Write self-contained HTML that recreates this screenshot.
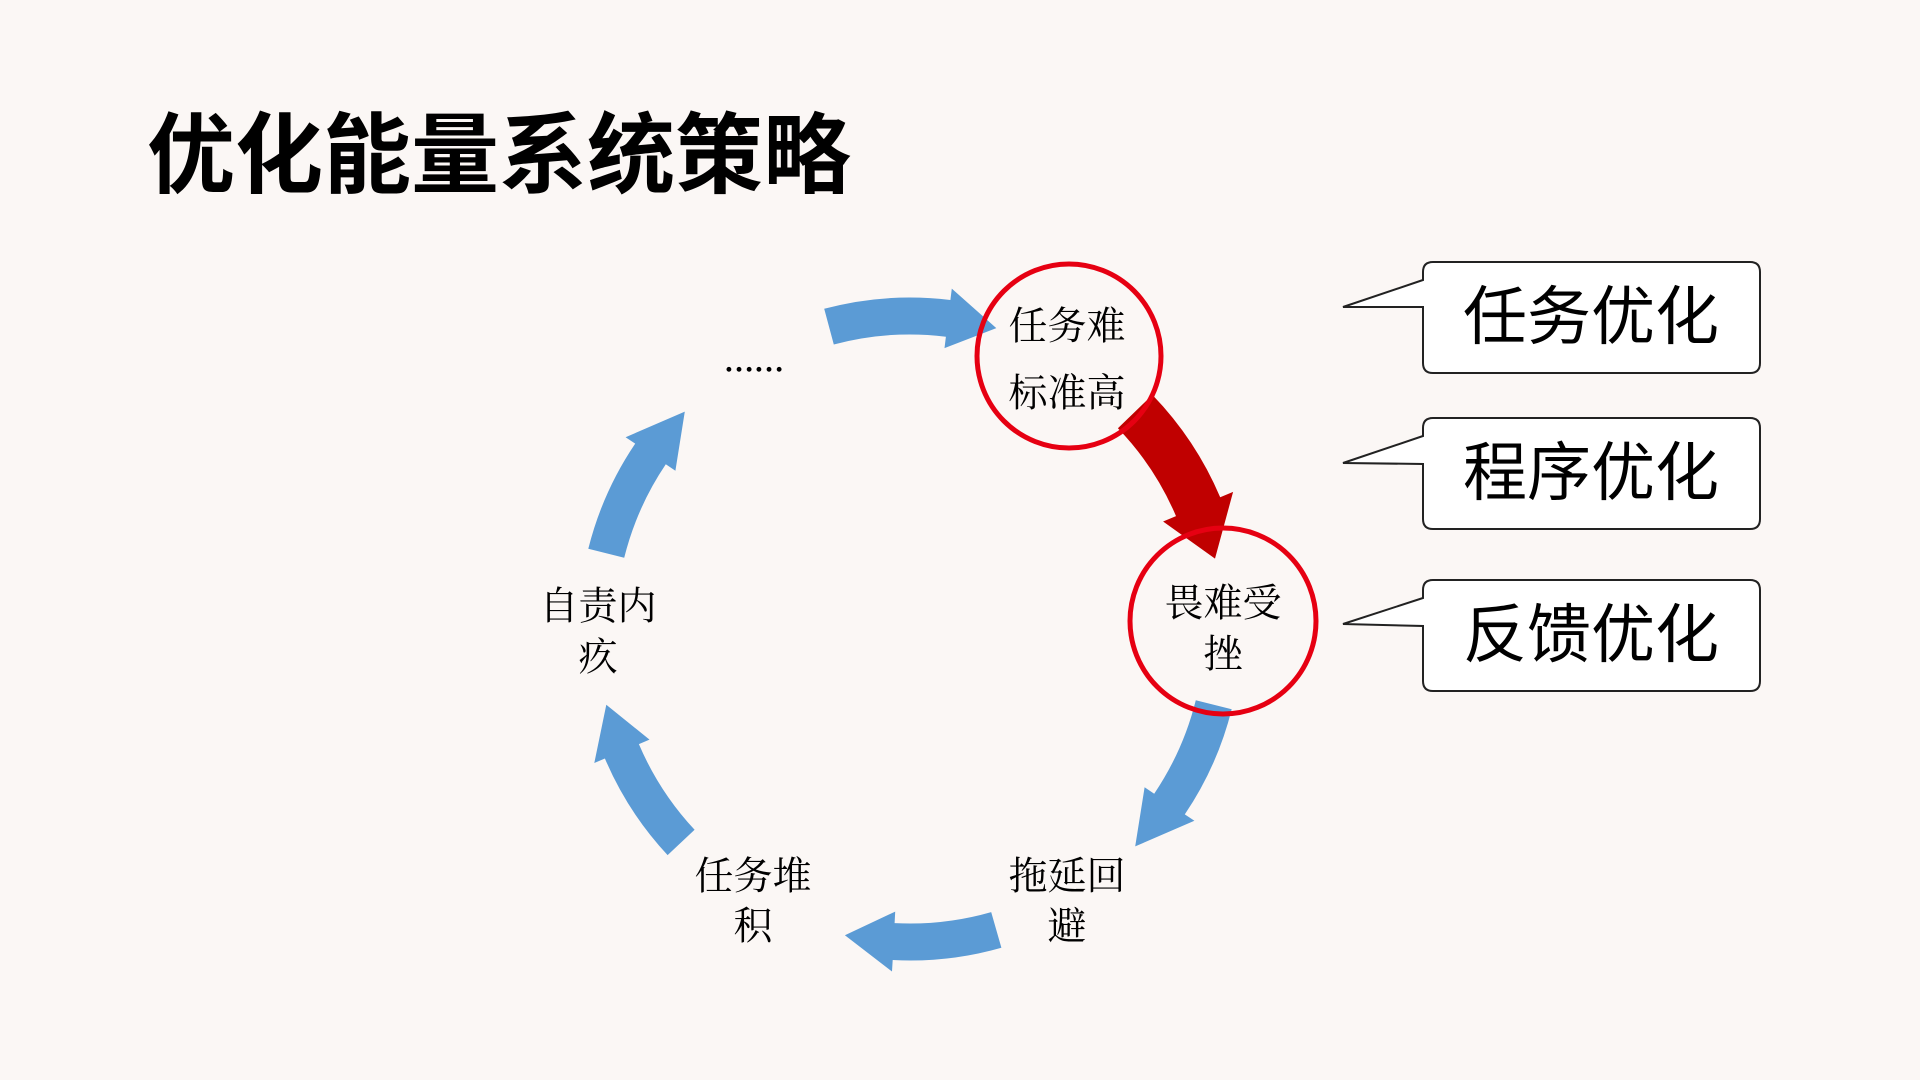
<!DOCTYPE html>
<html><head><meta charset="utf-8">
<style>
html,body{margin:0;padding:0;background:#fbf7f5;}
body{width:1920px;height:1080px;position:relative;overflow:hidden;}
#title{position:absolute;left:147px;top:112px;font:bold 88px/1 "Liberation Sans","Noto Sans CJK SC",sans-serif;color:#000;letter-spacing:0px;white-space:nowrap;}
svg{position:absolute;left:0;top:0;}
</style></head><body>
<div id="title">优化能量系统策略</div>
<svg id="s" width="1920" height="1080" viewBox="0 0 1920 1080" xmlns="http://www.w3.org/2000/svg">
<g id="arrows"></g>
<circle cx="1069" cy="356" r="92" fill="none" stroke="#e60012" stroke-width="5"/>
<circle cx="1223" cy="621" r="93" fill="none" stroke="#e60012" stroke-width="5"/>
<g font-family="'Liberation Serif','Noto Serif CJK SC',serif" font-size="39" fill="#000" text-anchor="middle" dominant-baseline="central">
<text x="754" y="362" font-size="30" font-weight="bold">……</text>
<text x="1067" y="327">任务难</text>
<text x="1067" y="394">标准高</text>
<text x="1223" y="604">畏难受</text>
<text x="1223" y="655">挫</text>
<text x="598" y="607">自责内</text>
<text x="598" y="658">疚</text>
<text x="753" y="877">任务堆</text>
<text x="753" y="927">积</text>
<text x="1067" y="877">拖延回</text>
<text x="1067" y="927">避</text>
</g>
<g fill="#fff" stroke="#222" stroke-width="2">
<path d="M1433,262 H1750 Q1760,262 1760,272 V363 Q1760,373 1750,373 H1433 Q1423,373 1423,363 V307 L1343,307 L1423,280 V272 Q1423,262 1433,262 Z"/>
<path d="M1433,418 H1750 Q1760,418 1760,428 V519 Q1760,529 1750,529 H1433 Q1423,529 1423,519 V464 L1343,463 L1423,436 V428 Q1423,418 1433,418 Z"/>
<path d="M1433,580 H1750 Q1760,580 1760,590 V681 Q1760,691 1750,691 H1433 Q1423,691 1423,681 V626 L1343,624 L1423,598 V590 Q1423,580 1433,580 Z"/>
</g>
<g font-family="'Liberation Sans','Noto Sans CJK SC',sans-serif" font-size="64" fill="#000" text-anchor="middle" dominant-baseline="central">
<text x="1591" y="317">任务优化</text>
<text x="1591" y="473">程序优化</text>
<text x="1591" y="635">反馈优化</text>
</g>
</svg>
<script>
(function(){
var cx=910,cy=629,R=313,g=document.getElementById('arrows');
function P(a,r){var t=a*Math.PI/180;return [(cx+r*Math.cos(t)).toFixed(1),(cy+r*Math.sin(t)).toFixed(1)];}
function arrow(a0,a1,a2,t,w,col){
 var p1=P(a0,R+t/2),p2=P(a1,R+t/2),p3=P(a1,R+w/2),p4=P(a2,R),p5=P(a1,R-w/2),p6=P(a1,R-t/2),p7=P(a0,R-t/2);
 var d='M'+p1+' A'+(R+t/2)+','+(R+t/2)+' 0 0 1 '+p2+' L'+p3+' L'+p4+' L'+p5+' L'+p6+' A'+(R-t/2)+','+(R-t/2)+' 0 0 0 '+p7+' Z';
 var e=document.createElementNS('http://www.w3.org/2000/svg','path');
 e.setAttribute('d',d);e.setAttribute('fill',col);g.appendChild(e);
}
var B='#5b9bd5';
arrow(-105,-83,-74,37,60,B);
arrow(-44,-23,-13,48,76,'#c00000');
arrow(14,34,44,37,60,B);
arrow(74,93,102,37,60,B);
arrow(137,157,166,37,60,B);
arrow(194,214,224,37,60,B);
})();
</script>
</body></html>
